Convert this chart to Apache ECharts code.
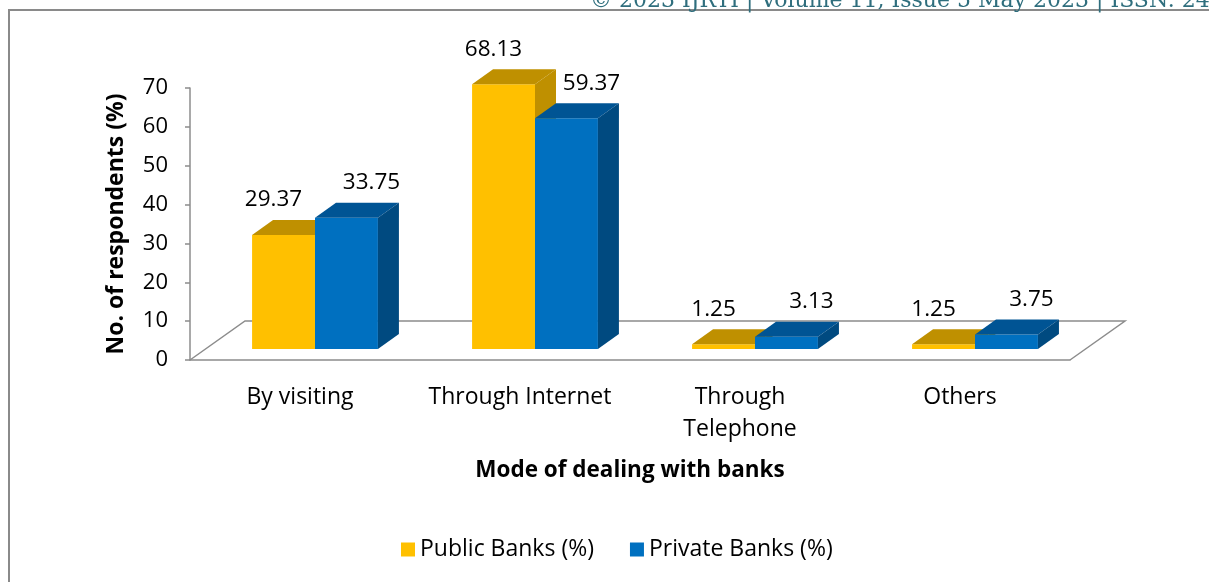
<!DOCTYPE html>
<html>
<head>
<meta charset="utf-8">
<script src="https://cdn.jsdelivr.net/npm/echarts@6/dist/echarts.min.js"></script>
<style>
  html, body { margin: 0; padding: 0; background: #fff; }
  #chart { width: 1209px; height: 582px; }
</style>
</head>
<body>
<div id="chart"></div>
<script>
// data
const categories = ['By visiting', 'Through Internet', 'Through\nTelephone', 'Others'];
const publicBanks = [29.37, 68.13, 1.25, 1.25];
const privateBanks = [33.75, 59.37, 3.13, 3.75];
const yTicks = [0, 10, 20, 30, 40, 50, 60, 70];

const FONT = '"Open Sans", sans-serif';

// 3D look: front face pushed back into the floor, then a depth for the block
const FLOOR_DX = 55, FLOOR_DY = -39;
const FACE_DX = 15, FACE_DY = -11;
const DEPTH_DX = 21, DEPTH_DY = -15;

const colors = [
    { front: '#FFC000', top: '#BF9000', side: '#BF9000' },
    { front: '#0070C0', top: '#005494', side: '#004A80' }
];

function barRenderer(k) {
    return function (params, api) {
        const cat = api.value(0), val = api.value(1);
        const base = api.coord([cat, 0]);
        const top = api.coord([cat, val]);
        const band = api.size([1, 0])[0];
        const w = band * 0.286;
        const mid = base[0] + FACE_DX;
        const xl = k === 0 ? mid - w : mid;
        const xr = xl + w;
        const yb = base[1] + FACE_DY;
        const yt = top[1] + FACE_DY;
        const c = colors[k];
        const labelX = k === 0 ? xl + w / 2 - 10 : xl + DEPTH_DX + w / 2 + 4;
        return {
            type: 'group',
            children: [
                { type: 'rect', shape: { x: xl, y: yt, width: w, height: yb - yt }, style: { fill: c.front } },
                { type: 'polygon', shape: { points: [[xl, yt], [xr, yt], [xr + DEPTH_DX, yt + DEPTH_DY], [xl + DEPTH_DX, yt + DEPTH_DY]] }, style: { fill: c.top } },
                { type: 'polygon', shape: { points: [[xr, yt], [xr + DEPTH_DX, yt + DEPTH_DY], [xr + DEPTH_DX, yb + DEPTH_DY], [xr, yb]] }, style: { fill: c.side } },
                { type: 'text', style: { text: String(val), x: labelX, y: yt + DEPTH_DY - 20, align: 'center', verticalAlign: 'middle', font: '22.5px ' + FONT, fill: '#000' } }
            ]
        };
    };
}

function floorRenderer(params, api) {
    const cs = params.coordSys;
    const x0 = cs.x, x1 = cs.x + cs.width, y = cs.y + cs.height;
    return {
        type: 'polyline',
        shape: { points: [[x0, y], [x0 + FLOOR_DX, y + FLOOR_DY], [x1 + FLOOR_DX, y + FLOOR_DY], [x1, y]] },
        style: { stroke: '#8c8c8c', lineWidth: 1.5, fill: null }
    };
}

const chart = echarts.init(document.getElementById('chart'));
chart.setOption({
    animation: false,
    backgroundColor: '#fff',
    textStyle: { fontFamily: FONT },
    graphic: [
        { type: 'rect', shape: { x: 9, y: 10, width: 1400, height: 800 }, style: { fill: null, stroke: '#8a8a8a', lineWidth: 2 }, z: 0 },
        { type: 'text', style: { text: '\u00a9 2023 IJRTI | Volume 11, Issue 5 May 2023 | ISSN: 2456-3315', x: 590, y: 12, verticalAlign: 'bottom', font: '22px "DejaVu Serif", serif', fill: '#2f6e7d' } }
    ],
    grid: { left: 190, right: 139, top: 88, bottom: 222 },
    legend: {
        left: 396, top: 533,
        icon: 'rect', itemWidth: 14, itemHeight: 14, itemGap: 36,
        textStyle: { fontSize: 23, color: '#000', fontFamily: FONT },
        data: [
            { name: 'Public Banks (%)', itemStyle: { color: colors[0].front } },
            { name: 'Private Banks (%)', itemStyle: { color: colors[1].front } }
        ]
    },
    xAxis: {
        type: 'category',
        data: categories,
        name: 'Mode of dealing with banks',
        nameLocation: 'middle',
        nameGap: 99,
        nameTextStyle: { fontSize: 22.5, fontWeight: 'bold', color: '#000', fontFamily: FONT },
        axisLine: { lineStyle: { color: '#8c8c8c', width: 1.5 } },
        axisTick: { length: 8, lineStyle: { color: '#8c8c8c', width: 1.5 } },
        axisLabel: { interval: 0, fontSize: 23, color: '#000', margin: 21, lineHeight: 32, fontFamily: FONT }
    },
    yAxis: {
        type: 'value',
        min: yTicks[0], max: yTicks[yTicks.length - 1], interval: 10,
        name: 'No. of respondents (%)',
        nameLocation: 'middle',
        nameRotate: 90,
        nameGap: 62,
        nameTextStyle: { fontSize: 23, fontWeight: 'bold', color: '#000', fontFamily: FONT },
        axisLine: { show: true, lineStyle: { color: '#8c8c8c', width: 1.5 } },
        axisTick: { show: true, length: 5, lineStyle: { color: '#8c8c8c', width: 1.5 } },
        axisLabel: { fontSize: 22, color: '#000', margin: 22, fontFamily: FONT },
        splitLine: { show: false }
    },
    series: [
        { type: 'custom', name: 'floor', renderItem: floorRenderer, data: [0], z: 1, silent: true },
        { type: 'custom', name: 'Public Banks (%)', renderItem: barRenderer(0), data: publicBanks.map((v, i) => [i, v]), encode: { x: 0, y: 1 }, itemStyle: { color: colors[0].front }, z: 2 },
        { type: 'custom', name: 'Private Banks (%)', renderItem: barRenderer(1), data: privateBanks.map((v, i) => [i, v]), encode: { x: 0, y: 1 }, itemStyle: { color: colors[1].front }, z: 3 }
    ]
});
</script>
</body>
</html>
